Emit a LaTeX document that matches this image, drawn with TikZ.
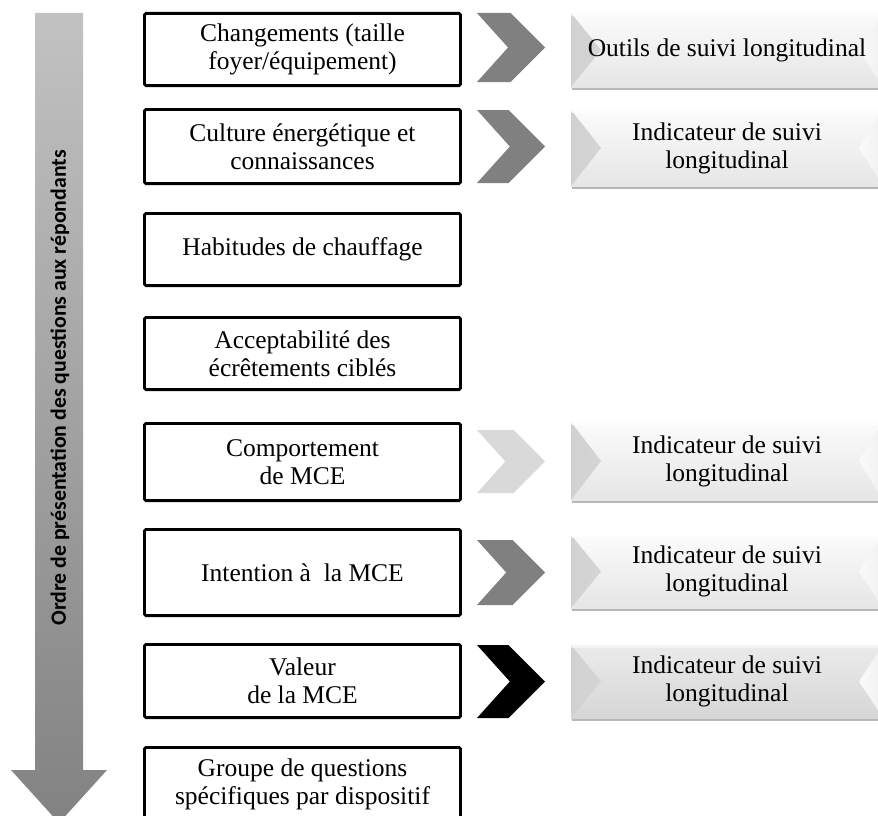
\documentclass[tikz,border=0pt]{standalone}
\usepackage{fontspec}
\setmainfont{Liberation Serif}
\newfontfamily\labfont{Carlito}
\usetikzlibrary{shadows,calc}
\newcommand{\mychev}[3]{\fill[#3] (477,#1) -- ({545-(#2-#1)/2},#1) -- (545,{(#1+#2)/2}) -- ({545-(#2-#1)/2},#2) -- (477,#2) -- ({477+0.9*(#2-#1)/2},{(#1+#2)/2}) -- cycle;}
\tikzset{
  txt/.style={font=\fontsize{25.5}{28}\selectfont, align=center},
  lbox/.style={txt, draw=black, line width=2.8pt, rounded corners=1.5pt,
    minimum width=316pt, inner sep=0pt},
  rbox/.style={txt, minimum width=312pt, inner sep=0pt,
    top color=gray!3, bottom color=gray!20,
    drop shadow={shadow xshift=1pt, shadow yshift=-3pt, fill=gray!80, opacity=0.7},
    path picture={
      \shade[left color=gray!36, right color=gray!10]
        (path picture bounding box.north west) -- (path picture bounding box.south west)
        -- ([xshift=30pt]path picture bounding box.west) -- cycle;
      \shade[left color=gray!4, right color=gray!12]
        (path picture bounding box.north east) -- (path picture bounding box.south east)
        -- ([xshift=-24pt]path picture bounding box.east) -- cycle;
      \fill[white, opacity=0.5]
        (path picture bounding box.north west) -- (path picture bounding box.north east)
        -- ([yshift=-3pt]path picture bounding box.north east)
        -- ([yshift=-3pt]path picture bounding box.north west) -- cycle;
    }},
  rboxdark/.style={rbox, top color=gray!16, bottom color=gray!32},
  chevmid/.style={fill=gray},
  chevlight/.style={fill=gray!30},
  chevdark/.style={fill=black},
}
\begin{document}
\begin{tikzpicture}[x=1pt,y=-1pt]
\useasboundingbox (0,0) rectangle (878,816);
\clip (0,0) rectangle (878,816);
\fill[white] (0,0) rectangle (878,816);

% order arrow
\shade[top color=gray!48, bottom color=gray!98]
  (35,13) -- (83,13) -- (83,770) -- (107,770) -- (59,823) -- (11,770) -- (35,770) -- cycle;
\node[rotate=90, font=\labfont\bfseries\fontsize{21.8}{24}\selectfont] (lab) at (60,388)
  {Ordre de présentation des questions aux répondants};

% left boxes
\node[lbox, minimum height=72.2pt] (b1) at (302.5,49.5) {Changements (taille\\foyer/équipement)};
\node[lbox, minimum height=74.2pt] (b2) at (302.5,146.5) {Culture énergétique et\\connaissances};
\node[lbox, minimum height=72.2pt] (b3) at (302.5,249.5) {Habitudes de chauffage};
\node[lbox, minimum height=72.2pt] (b4) at (302.5,353.5) {Acceptabilité des\\écrêtements ciblés};
\node[lbox, minimum height=77.2pt] (b5) at (302.5,462) {Comportement\\de MCE};
\node[lbox, minimum height=86.2pt] (b6) at (302.5,572.5) {Intention à \ la MCE};
\node[lbox, minimum height=73.2pt] (b7) at (302.5,681) {Valeur\\de la MCE};
\node[lbox, minimum height=73.2pt] (b8) at (302.5,784) {Groupe de questions\\spécifiques par dispositif};

% chevrons
\mychev{13}{82}{chevmid}
\mychev{110}{183}{chevmid}
\mychev{430}{493}{chevlight}
\mychev{540}{605}{chevmid}
\mychev{645}{718}{chevdark}

% right boxes
\node[rbox, minimum height=74pt] (r1) at (727,50) {Outils de suivi longitudinal};
\node[rbox, minimum height=76pt] (r2) at (727,148) {Indicateur de suivi\\longitudinal};
\node[rbox, minimum height=78pt] (r5) at (727,461) {Indicateur de suivi\\longitudinal};
\node[rbox, minimum height=73pt] (r6) at (727,571.5) {Indicateur de suivi\\longitudinal};
\node[rboxdark, minimum height=73pt] (r7) at (727,681.5) {Indicateur de suivi\\longitudinal};
\end{tikzpicture}
\end{document}
